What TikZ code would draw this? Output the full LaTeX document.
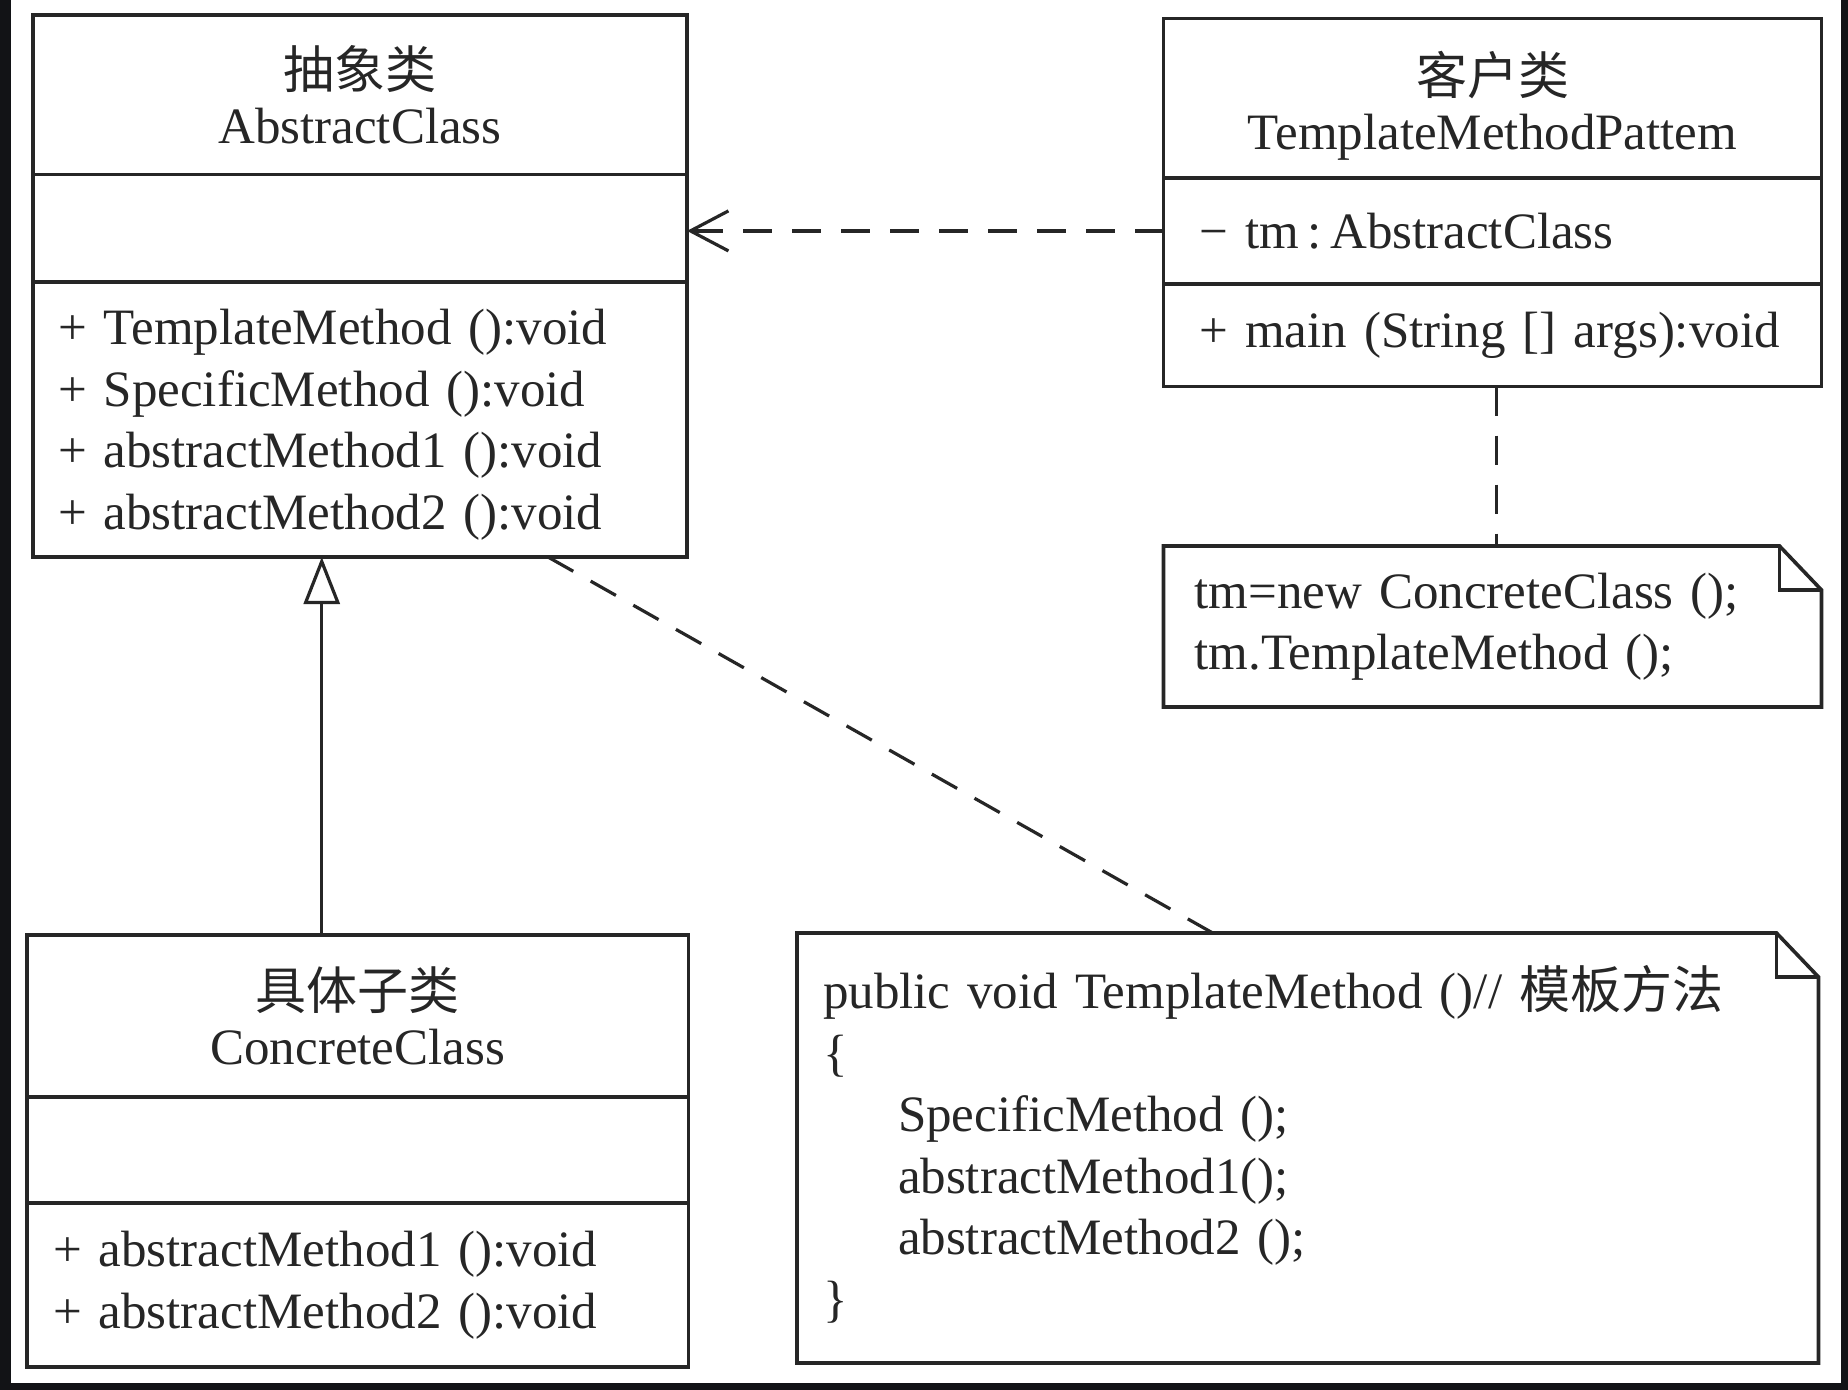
\documentclass[tikz,border=0pt]{standalone}
\usepackage{fontspec}
\setmainfont{Liberation Serif}
\newfontfamily\cjk{Noto Sans CJK SC}
\usetikzlibrary{positioning, arrows.meta}
\definecolor{inkgray}{RGB}{38,38,38}
\definecolor{framedark}{RGB}{18,19,22}
\newcommand\umlfont{\fontsize{51}{61.5}\selectfont}
\newcommand\umlheadfont{\fontsize{51}{55}\selectfont}
\tikzset{
  compart/.style={
    draw=inkgray, line width=3.6pt, fill=white, text=inkgray,
    inner ysep=0pt, outer sep=0pt, font=\umlfont, align=left
  },
  headcompart/.style={compart, font=\umlheadfont, align=center},
  notetext/.style={text=inkgray, inner ysep=0pt, outer sep=0pt, font=\umlfont, align=left},
  noteline/.style={inkgray, line width=3.6pt, line join=miter},
  depend/.style={inkgray, line width=3.2pt, dash pattern=on 29pt off 20pt},
  generalize/.style={inkgray, line width=3.2pt, -{Triangle[open, length=47pt, width=36pt]}}
}

\begin{document}
\begin{tikzpicture}[x=1pt, y=-1pt]
  \fill[framedark] (0,0) rectangle (1848,1390);
  \fill[white] (11,0) rectangle (1841,1383);
  % abstract class
  \node[headcompart, text width=604pt, inner xsep=25pt, minimum height=159.5pt, anchor=north west] (abshead) at (33,15) {{\cjk 抽象类}\\AbstractClass};
  \node[compart, text width=604pt, inner xsep=25pt, minimum height=107.5pt, below=0pt of abshead] (absattr) {};
  \node[compart, text width=604pt, inner xsep=25pt, minimum height=275pt, text height=46pt, below=0pt of absattr] (absops) {+ TemplateMethod ():void\\+ SpecificMethod ():void\\+ abstractMethod1 ():void\\+ abstractMethod2 ():void};
  % client
  \node[headcompart, text width=586pt, inner xsep=36pt, minimum height=159.6pt, text height=58pt, anchor=north west] (clienthead) at (1163.5,18.4) {{\cjk 客户类}\\TemplateMethodPattem};
  \node[compart, text width=586pt, inner xsep=36pt, minimum height=105.8pt, below=0pt of clienthead] (clientattr) {− tm\,:\,AbstractClass};
  \node[compart, text width=586pt, inner xsep=36pt, minimum height=102.8pt, below=0pt of clientattr] (clientops) {+ main (String [] args):void};
  \node[notetext, text width=596pt, inner xsep=31pt, minimum height=161pt, anchor=north west] (notecall) at (1163.5,546) {tm=new ConcreteClass ();\\tm.TemplateMethod ();};
  % concrete class
  \node[headcompart, text width=609.5pt, inner xsep=26pt, minimum height=161.7pt, anchor=north west] (conhead) at (27,935) {{\cjk 具体子类}\\ConcreteClass};
  \node[compart, text width=609.5pt, inner xsep=26pt, minimum height=106.3pt, below=0pt of conhead] (conattr) {};
  \node[compart, text width=609.5pt, inner xsep=26pt, minimum height=164pt, below=0pt of conattr] (conops) {+ abstractMethod1 ():void\\+ abstractMethod2 ():void};
  \node[notetext, text width=969.5pt, inner xsep=26pt, minimum height=430pt, anchor=north west] (notecode) at (797,933) {public void TemplateMethod ()// \smash{\cjk 模板方法}\\\{\\\hspace*{75pt}SpecificMethod ();\\\hspace*{75pt}abstractMethod1();\\\hspace*{75pt}abstractMethod2 ();\\\}};
  % notes with folded corner
  \foreach \n in {notecall, notecode} {
    \draw[noteline] (\n.north west) -- ([xshift=-42pt]\n.north east) -- ([yshift=-44pt]\n.north east) -- (\n.south east) -- (\n.south west) -- cycle;
    \draw[noteline] ([xshift=-42pt]\n.north east) |- ([yshift=-44pt]\n.north east);
  }
  % relations
  \draw[depend, -{Straight Barb[length=38pt, width=40pt]}] (clientattr.west) -- (clientattr.west -| absattr.east);
  \coordinate (genfoot) at ([xshift=-36pt]conhead.north);
  \draw[generalize] (genfoot) -- (genfoot |- absops.south);
  \draw[depend] ([xshift=188pt]absops.south) -- ([xshift=-95pt]notecode.north);
  \draw[depend] ([xshift=4pt]clientops.south) -- ([xshift=4pt]notecall.north);
\end{tikzpicture}
\end{document}
